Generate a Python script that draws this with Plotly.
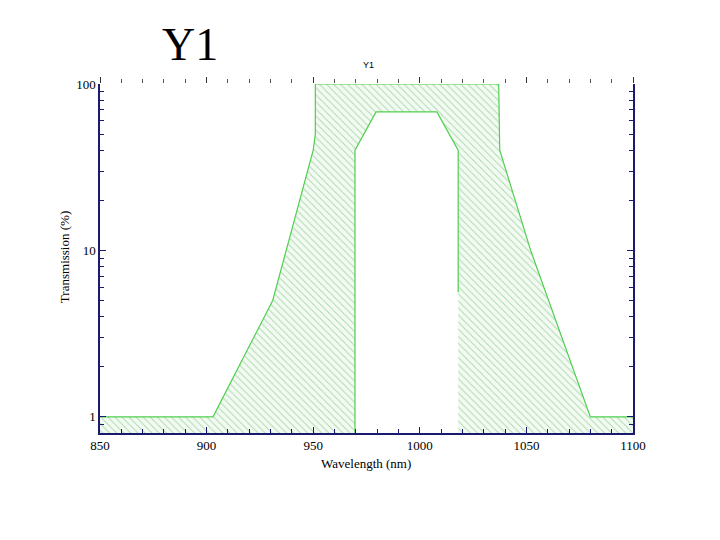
import plotly.graph_objects as go

# ---- data ----
y_floor = 0.8
outer_x = [850, 903, 931, 950, 951, 951, 1037, 1037.5, 1052, 1080, 1100]
outer_y = [1, 1, 5, 40, 50, 100, 100, 40, 10, 1, 1]
inner_x = [969.6, 969.6, 979.5, 1008, 1018, 1018]
inner_y = [y_floor, 40, 68, 68, 40, 5.6]

x_ticks = [850, 900, 950, 1000, 1050, 1100]
y_ticks = [1, 10, 100]
y_minor = [0.9] + [v for d in (1, 10) for v in [d * k for k in range(2, 10)]]

green = "#4fcf4f"
navy = "#1a1a6e"
serif = "Liberation Serif"

# closed polygon for the hatched area
poly_x = [outer_x[0]] + outer_x + [outer_x[-1], inner_x[-1]] + list(reversed(inner_x)) + [outer_x[0]]
poly_y = [y_floor] + outer_y + [y_floor, y_floor] + list(reversed(inner_y)) + [y_floor]

tfont = dict(family=serif, size=13, color="black")

fig = go.Figure()
fig.add_trace(go.Scatter(
    x=poly_x, y=poly_y, mode="lines", fill="toself",
    line=dict(width=0, color="rgba(0,0,0,0)"),
    fillcolor="rgba(0,0,0,0)",
    fillpattern=dict(shape="\\", fgcolor="#5cb85c", bgcolor="#f3faf3",
                     size=5, solidity=0.18),
    hoverinfo="skip", showlegend=False))
fig.add_trace(go.Scatter(x=outer_x, y=outer_y, mode="lines",
                         line=dict(color=green, width=1.2), showlegend=False))
fig.add_trace(go.Scatter(x=inner_x, y=inner_y, mode="lines",
                         line=dict(color=green, width=1.2), showlegend=False))
# invisible trace for top tick axis
fig.add_trace(go.Scatter(x=[850, 1100], y=[1, 1], xaxis="x2", mode="markers",
                         marker=dict(opacity=0), showlegend=False, hoverinfo="skip"))

fig.update_layout(
    width=720, height=540,
    margin=dict(l=100, r=87, t=84, b=107),
    paper_bgcolor="white", plot_bgcolor="white",
    font=dict(family=serif, size=13, color="black"),
    xaxis=dict(range=[850, 1100], tickvals=x_ticks, ticks="inside", ticklen=6,
               tickcolor=navy, showline=True, linecolor=navy, linewidth=1.5,
               showgrid=False, zeroline=False, tickfont=tfont,
               minor=dict(dtick=10, tick0=850, ticks="inside", ticklen=4, tickcolor=navy)),
    xaxis2=dict(range=[850, 1100], overlaying="x", side="top", showline=False,
                showgrid=False, zeroline=False, showticklabels=False,
                tickvals=x_ticks, ticks="outside", ticklen=6, tickcolor="#333",
                minor=dict(dtick=10, tick0=850, ticks="outside", ticklen=4, tickcolor="#555")),
    yaxis=dict(type="log", range=[-0.097, 2.0], tickvals=y_ticks,
               ticktext=["1", "10", "100"], ticks="inside", ticklen=6,
               tickcolor=navy, showline=True, linecolor=navy, linewidth=1.5,
               mirror="ticks", showgrid=False, zeroline=False, tickfont=tfont,
               minor=dict(tickvals=y_minor, ticks="inside", ticklen=4, tickcolor=navy)),
    annotations=[
        dict(text="Y1", xref="paper", yref="paper", x=0.169, y=1.112,
             showarrow=False, font=dict(family=serif, size=46, color="black"),
             xanchor="center", yanchor="middle"),
        dict(text="Y1", xref="paper", yref="paper", x=0.503, y=1.054,
             showarrow=False, font=dict(family="Liberation Sans", size=9, color="black"),
             xanchor="center", yanchor="middle"),
        dict(text="Wavelength (nm)", xref="paper", yref="paper", x=0.499, y=-0.086,
             showarrow=False, font=tfont, xanchor="center", yanchor="middle"),
        dict(text="Transmission (%)", xref="paper", yref="paper", x=-0.0675, y=0.504,
             showarrow=False, textangle=-90, font=tfont,
             xanchor="center", yanchor="middle"),
    ],
)

fig.write_html("out.html")
